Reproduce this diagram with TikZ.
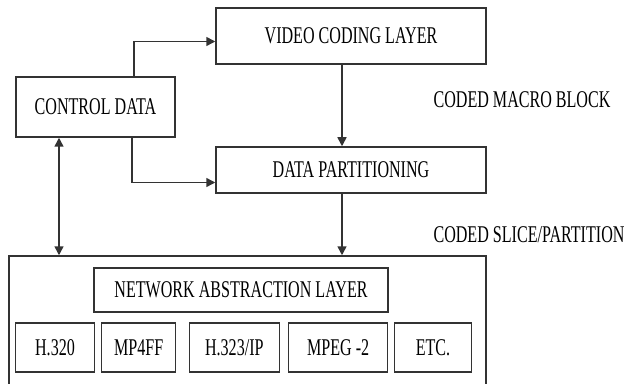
\documentclass[tikz,border=0pt]{standalone}
\usepackage{fontspec}
\usepackage{tikz}
\usetikzlibrary{positioning, arrows.meta}
\newfontfamily\narrowserif[FakeStretch=0.67]{Liberation Serif}
\definecolor{edgegray}{HTML}{333333}

\begin{document}
\begin{tikzpicture}[x=1pt, y=1pt,
    box/.style={draw=edgegray, line width=1.5pt, inner sep=0pt, align=center,
                font=\narrowserif\fontsize{24}{27}\selectfont},
    tag/.style={inner sep=0pt, font=\narrowserif\fontsize{24}{27}\selectfont},
    flow/.style={-{Triangle[length=9pt, width=9pt]}, draw=edgegray, line width=1.5pt}]
  \useasboundingbox (0,0) rectangle (628,383);
  % upper blocks
  \node[box, minimum width=159pt, minimum height=60pt] (ctrl) at (95.5,276) {CONTROL DATA};
  \node[box, minimum width=270pt, minimum height=56pt] (vcl) at (351,347) {VIDEO CODING LAYER};
  \node[box, minimum width=270pt, minimum height=46pt] (part) at (351,213) {DATA PARTITIONING};
  \node[tag] (macro) at (522,283) {CODED MACRO BLOCK};
  \node[tag] (slice) at (529,148) {CODED SLICE/PARTITION};
  % network abstraction layer (bottom edge runs off the page)
  \node[box, minimum width=477pt, minimum height=135pt] (net) at (247.5,59.5) {};
  \node[box, minimum width=294pt, minimum height=44pt] (nal) at (241,93) {NETWORK ABSTRACTION LAYER};
  \node[box, minimum width=78.6pt, minimum height=49pt] (h320) at (55,35.5) {H.320};
  \node[box, minimum width=74pt, minimum height=49pt] (mp4ff) at (138.7,35.5) {MP4FF};
  \node[box, minimum width=90pt, minimum height=49pt] (h323) at (234.3,35.5) {H.323/IP};
  \node[box, minimum width=99pt, minimum height=49pt] (mpeg) at (338.2,35.5) {MPEG -2};
  \node[box, minimum width=77.4pt, minimum height=49pt] (etc) at (433,35.5) {ETC.};
  % connectors
  \coordinate (upturn) at (134,341.5);
  \coordinate (downturn) at (132,200.5);
  \coordinate (spine) at (342,0);
  \coordinate (link) at (59,0);
  \draw[flow] (ctrl.north -| upturn) |- (vcl.west |- upturn);
  \draw[flow] (ctrl.south -| downturn) |- (part.west |- downturn);
  \draw[flow] (vcl.south -| spine) -- (part.north -| spine);
  \draw[flow] (part.south -| spine) -- (net.north -| spine);
  \draw[flow, {Triangle[length=9pt, width=9pt]}-{Triangle[length=9pt, width=9pt]}] (ctrl.south -| link) -- (net.north -| link);
\end{tikzpicture}
\end{document}
